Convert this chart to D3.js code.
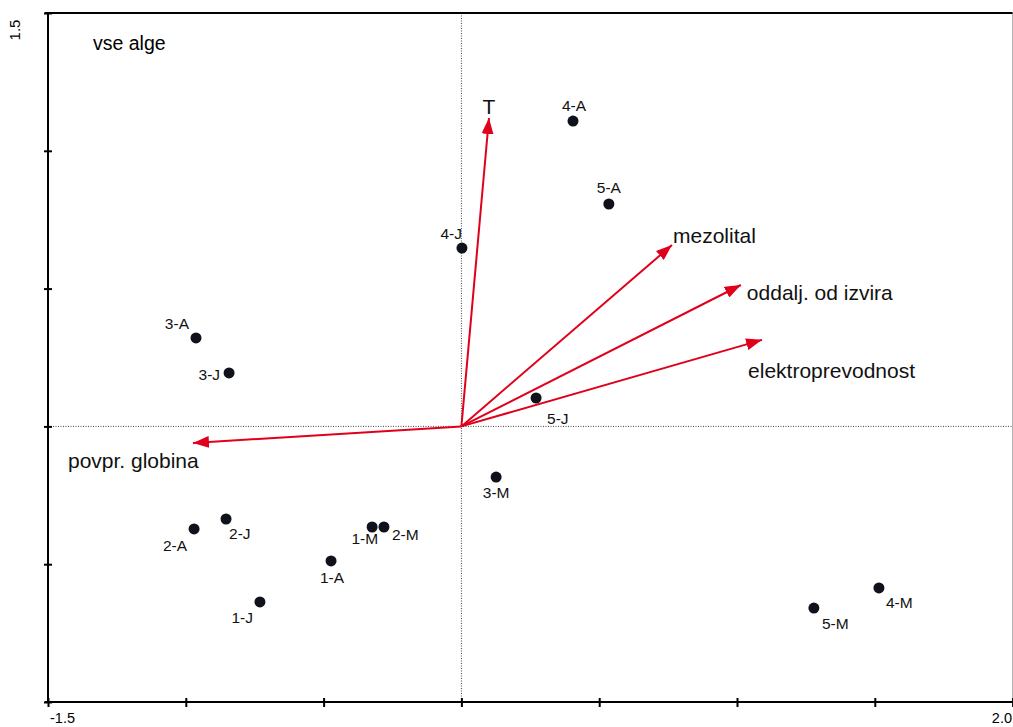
<!DOCTYPE html>
<html>
<head>
<meta charset="utf-8">
<script src="https://cdn.jsdelivr.net/npm/d3@7"></script>
<style>
  html, body { margin: 0; padding: 0; background: #fff; }
  svg { display: block; font-family: "Liberation Sans", Arial, sans-serif; }
</style>
</head>
<body>
<svg id="chart" width="1013" height="727"></svg>
<script>
// Site scores (sample labels and ordination coordinates)
const siteNames = ["4-A", "5-A", "4-J", "3-A", "3-J", "5-J", "3-M", "2-A", "2-J", "1-M", "2-M", "1-A", "1-J", "5-M", "4-M"];
const siteX = [0.405, 0.535, 0.002, -0.963, -0.843, 0.271, 0.126, -0.970, -0.854, -0.324, -0.281, -0.473, -0.731, 1.279, 1.515];
const siteY = [1.108, 0.807, 0.647, 0.321, 0.194, 0.103, -0.184, -0.372, -0.336, -0.365, -0.365, -0.488, -0.637, -0.659, -0.586];

// Environmental variable vectors
const envNames = ["T", "mezolital", "oddalj. od izvira", "elektroprevodnost", "povpr. globina"];
const envX = [0.100, 0.764, 1.014, 1.091, -0.974];
const envY = [1.119, 0.658, 0.513, 0.314, -0.060];

// Axis extents and the tick values shown
const xTicks = [-1.5, -1.0, -0.5, 0, 0.5, 1.0, 1.5, 2.0];
const yTicks = [-1.0, -0.5, 0, 0.5, 1.0, 1.5];
const xTickLabels = ["-1.5", "2.0"];
const yTickLabels = ["1.5"];
const title = "vse alge";

const svg = d3.select("#chart");
const plotLeft = 48, plotRight = 1012.6, plotTop = 13, plotBottom = 702;

const x = d3.scaleLinear().domain([-1.5, 2.0]).range([plotLeft, plotRight]);
const y = d3.scaleLinear().domain([-1.0, 1.5]).range([plotBottom, plotTop]);

const red = "#e0001b";

// Arrowhead marker
svg.append("defs").append("marker")
  .attr("id", "head")
  .attr("viewBox", "0 0 16 12")
  .attr("refX", 16).attr("refY", 6)
  .attr("markerWidth", 16).attr("markerHeight", 12)
  .attr("markerUnits", "userSpaceOnUse")
  .attr("orient", "auto")
  .append("path")
  .attr("d", "M0,0 L16,6 L0,12 Z")
  .attr("fill", red);

// Dotted zero lines
svg.append("line")
  .attr("x1", x(0)).attr("x2", x(0)).attr("y1", plotTop).attr("y2", plotBottom)
  .attr("stroke", "#444").attr("stroke-width", 1).attr("stroke-dasharray", "1,1.5");
svg.append("line")
  .attr("x1", plotLeft).attr("x2", plotRight).attr("y1", y(0)).attr("y2", y(0))
  .attr("stroke", "#444").attr("stroke-width", 1).attr("stroke-dasharray", "1,1.5");

// Frame
svg.append("line").attr("x1", plotRight).attr("x2", plotRight).attr("y1", plotTop).attr("y2", plotBottom)
  .attr("stroke", "#aaa").attr("stroke-width", 1);
svg.append("line").attr("x1", plotLeft - 3).attr("x2", plotRight).attr("y1", plotTop).attr("y2", plotTop)
  .attr("stroke", "#000").attr("stroke-width", 2);

// Left axis with ticks crossing the line
const yAxis = d3.axisLeft(y).tickValues(yTicks).tickSize(8).tickFormat("");
const gy = svg.append("g").attr("transform", `translate(${plotLeft},0)`).call(yAxis);
gy.select(".domain").attr("stroke", "#000").attr("stroke-width", 2).attr("d", `M0,${plotTop}V${plotBottom}`);
gy.selectAll(".tick line").attr("stroke", "#000").attr("stroke-width", 2).attr("x1", 4).attr("x2", -4);

// Bottom axis
const xAxis = d3.axisBottom(x).tickValues(xTicks).tickSize(8).tickFormat("");
const gx = svg.append("g").attr("transform", `translate(0,${plotBottom})`).call(xAxis);
gx.select(".domain").attr("stroke", "#000").attr("stroke-width", 2).attr("d", `M${plotLeft - 3},0H${plotRight}`);
gx.selectAll(".tick line").attr("stroke", "#000").attr("stroke-width", 2).attr("y1", -4).attr("y2", 5);

// Axis end labels
svg.append("text").attr("x", plotLeft + 2).attr("y", 723).attr("font-size", 14.5).attr("fill", "#000").text(xTickLabels[0]);
svg.append("text").attr("x", 1012).attr("y", 723).attr("text-anchor", "end").attr("font-size", 14.5).attr("fill", "#000").text(xTickLabels[1]);
svg.append("text").attr("transform", "translate(19.5,30) rotate(-90)")
  .attr("text-anchor", "middle").attr("font-size", 15).attr("fill", "#000").text(yTickLabels[0]);

// Title
svg.append("text").attr("x", 93).attr("y", 50).attr("font-size", 19.5).attr("fill", "#000").text(title);

// Environmental arrows
const env = envNames.map((n, i) => ({ name: n, x: envX[i], y: envY[i] }));
svg.append("g").selectAll("line").data(env).join("line")
  .attr("x1", x(0)).attr("y1", y(0))
  .attr("x2", d => x(d.x)).attr("y2", d => y(d.y))
  .attr("stroke", red).attr("stroke-width", 2)
  .attr("marker-end", "url(#head)");

// Vector labels: offsets relative to arrow tips
const envLabelPos = {
  "T": { dx: 0, dy: -4, anchor: "middle" },
  "mezolital": { dx: 1, dy: -2, anchor: "start" },
  "oddalj. od izvira": { dx: 6, dy: 15, anchor: "start" },
  "elektroprevodnost": { dx: -14, dy: 38, anchor: "start" },
  "povpr. globina": { dx: -125, dy: 25, anchor: "start" }
};
svg.append("g").selectAll("text").data(env).join("text")
  .attr("x", d => x(d.x) + envLabelPos[d.name].dx)
  .attr("y", d => y(d.y) + envLabelPos[d.name].dy)
  .attr("text-anchor", d => envLabelPos[d.name].anchor)
  .attr("font-size", 21).attr("fill", "#111")
  .text(d => d.name);

// Sites
const sites = siteNames.map((n, i) => ({ name: n, x: siteX[i], y: siteY[i] }));
svg.append("g").selectAll("circle").data(sites).join("circle")
  .attr("cx", d => x(d.x)).attr("cy", d => y(d.y)).attr("r", 5.5)
  .attr("fill", "#0f121a");

// Site label offsets
const siteLabelPos = {
  "4-A": [1, -10, "middle"], "5-A": [0, -11, "middle"], "4-J": [0, -9, "end"],
  "3-A": [-7, -9, "end"], "3-J": [-9, 7, "end"], "5-J": [11, 26, "start"],
  "3-M": [0, 21, "middle"], "2-A": [-7, 22, "end"], "2-J": [3, 20, "start"],
  "1-M": [6, 17, "end"], "2-M": [8, 13, "start"], "1-A": [1, 22, "middle"],
  "1-J": [-7, 21, "end"], "5-M": [8, 21, "start"], "4-M": [7, 20, "start"]
};
svg.append("g").selectAll("text").data(sites).join("text")
  .attr("x", d => x(d.x) + siteLabelPos[d.name][0])
  .attr("y", d => y(d.y) + siteLabelPos[d.name][1])
  .attr("text-anchor", d => siteLabelPos[d.name][2])
  .attr("font-size", 15.5).attr("fill", "#111")
  .text(d => d.name);
</script>
</body>
</html>
